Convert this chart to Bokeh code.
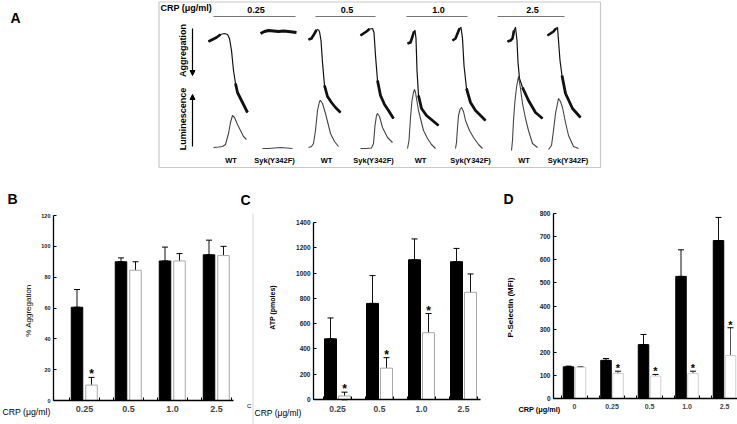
import math
from bokeh.plotting import figure
from bokeh.models import (Range1d, FixedTicker, Arrow, NormalHead, Whisker, TeeHead,
                          ColumnDataSource, LinearAxis)
from bokeh.layouts import column, row
from bokeh.core.properties import value
from bokeh.embed import file_html
from bokeh.resources import INLINE

FONT = "Liberation Sans"

# ---------------- Data ----------------
# Panel A: platelet aggregation (thick) and ATP luminescence (thin) traces, per lane
A_DOSES = ["0.25", "0.5", "1.0", "2.5"]
A_LANES = ["WT", "Syk(Y342F)", "WT", "Syk(Y342F)", "WT", "Syk(Y342F)", "WT", "Syk(Y342F)"]

AGG_X = [
    [208, 212, 216, 220, 224, 227, 229, 231, 233, 235, 237, 242, 247],
    [260, 264, 268, 273, 278, 283, 288, 292, 296],
    [308, 311, 314, 316, 317.5, 319, 320.5, 322, 324, 327, 331, 335, 340],
    [360, 363, 366, 369, 372, 373.5, 375, 377, 380, 384, 388, 393],
    [407, 410, 412, 413.5, 414.5, 415.5, 416.5, 418, 421, 426, 432, 438],
    [452, 455, 457, 459, 460.5, 462, 463.5, 466, 470, 475, 480, 485],
    [507, 510, 512, 513.5, 515, 516.5, 517.5, 519, 522, 528, 535, 542],
    [547, 550, 553, 555.5, 557, 558, 559.5, 561.5, 565, 572, 580],
]
AGG_Y = [
    [41, 39, 37, 34, 33, 34, 38, 50, 70, 83, 92, 102, 112],
    [33, 31, 30, 30.5, 31, 30.5, 31, 31.5, 32],
    [39, 38, 33, 29.5, 29, 31, 40, 62, 85, 96, 102, 107, 112],
    [35, 33, 31, 28.5, 28, 32, 55, 80, 95, 104, 110, 118],
    [43, 42, 36, 31, 30, 38, 70, 95, 108, 115, 120, 125],
    [40, 38, 33, 28, 27, 38, 65, 88, 102, 110, 115, 120],
    [41, 40, 38, 30, 27, 40, 62, 78, 87, 100, 112, 118],
    [35, 33, 31, 28, 27, 40, 60, 75, 93, 108, 117],
]
LUM_X = [
    [213, 218, 222, 225, 228, 230, 232, 234, 237, 240, 243, 246],
    [262, 268, 274, 280, 286, 292],
    [308, 311, 313, 315, 317, 319, 320, 322, 325, 330, 334, 338],
    [360, 366, 371, 373, 374.5, 376, 377, 379, 382, 387, 392],
    [407, 408.5, 410, 411.5, 413, 414, 415, 418, 423, 427, 431, 435],
    [455, 456, 457, 458, 459.5, 461, 463, 465, 469, 473, 478, 482],
    [511, 512, 513, 514.5, 516, 518, 520, 522, 525, 528, 532, 537],
    [548, 551, 553, 555, 557, 558, 560, 562, 565, 568, 573, 578],
]
LUM_Y = [
    [147, 146.5, 146, 144, 133, 122, 115, 117, 124, 130, 136, 139],
    [148, 148, 147.5, 147, 147.5, 148],
    [147, 146, 143, 130, 110, 101, 100, 103, 113, 133, 141, 146],
    [148, 148, 147.5, 143, 125, 115, 113, 116, 127, 137, 142],
    [148, 140, 117, 100, 92, 89, 92, 110, 130, 138, 144, 148],
    [148, 142, 127, 115, 109, 107, 111, 120, 130, 137, 144, 148],
    [150, 140, 120, 100, 87, 76, 88, 103, 118, 130, 143, 147],
    [149, 145, 130, 113, 103, 98, 101, 107, 122, 135, 146, 148],
]

# Panel B: % aggregation
B_DOSES = ["0.25", "0.5", "1.0", "2.5"]
B_WT = [60.5, 90, 90.5, 94.5]
B_WT_SD = [11.5, 2.5, 9, 9.5]
B_SYK = [10, 84.5, 90.5, 94]
B_SYK_SD = [5, 5.5, 4.8, 6]
B_SIG = [True, False, False, False]
B_TICKS = [0, 20, 40, 60, 80, 100, 120]

# Panel C: ATP (pmoles)
C_DOSES = ["0.25", "0.5", "1.0", "2.5"]
C_WT = [480, 760, 1105, 1090]
C_WT_SD = [165, 220, 165, 105]
C_SYK = [28, 248, 528, 848]
C_SYK_SD = [30, 83, 152, 145]
C_SIG = [True, True, True, False]
C_TICKS = [0, 200, 400, 600, 800, 1000, 1200, 1400]

# Panel D: P-selectin (MFI)
D_DOSES = ["0", "0.25", "0.5", "1.0", "2.5"]
D_WT = [137, 165, 233, 528, 683]
D_WT_SD = [3, 8, 44, 115, 100]
D_SYK = [135, 108, 97, 108, 186]
D_SYK_SD = [2, 10, 7, 10, 120]
D_SIG = [False, True, True, True, True]
D_TICKS = [0, 100, 200, 300, 400, 500, 600, 700, 800]

# ---------------- Layout (page pixels) ----------------
TOTAL_W = 737
HA = 186
TOP_B = 186
BOT_B = 424
HB = BOT_B - TOP_B


def txt(p, x, y, s, size, bold=True, align="center", baseline="middle", angle=0.0, color="black"):
    p.text(x=[x], y=[y], text=[s], text_font=value(FONT), text_font_size=f"{size}px",
           text_font_style="bold" if bold else "normal", text_align=align,
           text_baseline=baseline, angle=angle, text_color=color)


# ---- Panel A ----
pa = figure(width=TOTAL_W, height=HA, x_range=Range1d(0, TOTAL_W), y_range=Range1d(HA, 0),
            x_axis_location=None, y_axis_location=None, output_backend="svg",
            toolbar_location=None, min_border=0)
pa.grid.visible = False
pa.outline_line_color = None

txt(pa, 10, 17, "A", 14, align="left")
pa.quad(left=[158.5], right=[600], top=[1.5], bottom=[167], fill_color=None,
        line_color="#c8c8c8", line_width=1.2)
txt(pa, 160, 7.5, "CRP (\u03bcg/ml)", 9, align="left")

A_SPANS = [(213, 295), (315, 375), (406, 467), (497, 564)]
A_LANE_X = [230.5, 274, 326, 373, 420, 470, 523.5, 567.5]
for d, (a, b) in zip(A_DOSES, A_SPANS):
    pa.segment(x0=[a], x1=[b], y0=[16], y1=[16], line_color="#777777", line_width=1)
    txt(pa, (a + b) / 2 + 1.5, 9.5, d, 9)
for lx, ln in zip(A_LANE_X, A_LANES):
    txt(pa, lx, 160, ln, 7.5)

txt(pa, 182, 50, "Aggregation", 9, angle=math.pi / 2)
txt(pa, 182, 118.5, "Luminescence", 9, angle=math.pi / 2)
pa.add_layout(Arrow(x_start=192, y_start=28, x_end=192, y_end=75, line_width=1.2,
                    end=NormalHead(size=5, fill_color="black", line_color="black")))
pa.add_layout(Arrow(x_start=192, y_start=146, x_end=192, y_end=94, line_width=1.2,
                    end=NormalHead(size=5, fill_color="black", line_color="black")))

for xs, ys in zip(AGG_X, AGG_Y):
    if max(ys) - min(ys) < 10:
        pa.line(xs, ys, line_color="#111111", line_width=3.0, line_join="round")
        continue
    pk = ys.index(min(ys))
    thr = ys[pk] + 0.7 * (ys[-1] - ys[pk])
    tail = next(k for k in range(pk, len(ys)) if ys[k] >= thr)
    pa.line(xs, ys, line_color="#111111", line_width=1.2, line_join="round")
    pa.line(xs[:pk], ys[:pk], line_color="#111111", line_width=2.6, line_join="round")
    pa.line(xs[tail - 1:], ys[tail - 1:], line_color="#111111", line_width=2.8, line_join="round")
for xs, ys in zip(LUM_X, LUM_Y):
    pa.line(xs, ys, line_color="#444444", line_width=1.1, line_join="round")


# ---- Bar panels (frame = whole figure; axes at fixed locations) ----
def bar_panel(fig_left, fig_w, g, doses, wt, wt_sd, syk, syk_sd, sig, yticks, st, texts):
    n = len(doses)
    y1 = yticks[-1]

    def X(px):
        return (px - g["c0"]) / g["sp"]

    def Y(py):
        return (g["bottom"] - py) * y1 / (g["bottom"] - g["top"])

    p = figure(width=fig_w, height=HB, x_range=Range1d(X(fig_left), X(fig_left + fig_w)),
               y_range=Range1d(Y(BOT_B), Y(TOP_B)), x_axis_location=None,
               y_axis_location=None, output_backend="svg", toolbar_location=None,
               min_border=0)
    p.grid.visible = False
    p.outline_line_color = None

    xb = [i + st["ob"] / g["sp"] for i in range(n)]
    xw = [i + st["ow"] / g["sp"] for i in range(n)]
    bw = st["bw"] / g["sp"]
    p.vbar(x=xb, top=wt, width=bw, fill_color="black", line_color="black", line_width=1)
    p.vbar(x=xw, top=syk, width=bw, fill_color="white", line_color=st["wline"], line_width=1)

    src_b = ColumnDataSource(dict(x=xb, lo=wt, hi=[a + b for a, b in zip(wt, wt_sd)]))
    src_w = ColumnDataSource(dict(x=xw, lo=[a - b for a, b in zip(syk, syk_sd)],
                                  hi=[a + b for a, b in zip(syk, syk_sd)]))
    for src, lc in ((src_b, "#111111"), (src_w, st["wwhisk"])):
        p.add_layout(Whisker(source=src, base="x", lower="lo", upper="hi",
                             line_color=lc, line_width=1,
                             upper_head=TeeHead(size=6, line_color="black", line_width=1),
                             lower_head=TeeHead(size=6, line_color="black", line_width=1)))
    sx = [xw[i] for i in range(n) if sig[i]]
    sy = [syk[i] + syk_sd[i] for i in range(n) if sig[i]]
    p.text(x=sx, y=sy, text=["*"] * len(sx), text_font=value(FONT),
           text_font_size=f"{st['star']}px", text_font_style="bold", text_align="center",
           text_baseline="alphabetic", y_offset=st["star_off"])

    yax = LinearAxis(fixed_location=X(g["left"]), bounds=(0, y1),
                     ticker=FixedTicker(ticks=yticks))
    yax.major_tick_in = 3
    yax.major_tick_out = 0
    yax.minor_tick_in = 0
    yax.minor_tick_out = 0
    yax.major_label_standoff = 3
    yax.major_label_text_font = FONT
    yax.major_label_text_font_size = f"{st['tick']}px"
    yax.major_label_text_font_style = "bold"
    yax.major_label_text_color = "#222222"
    yax.axis_line_width = 1.3
    p.add_layout(yax, "left")

    minors = [i + d for i in range(n) for d in (-0.34, 0.34)]
    xax = LinearAxis(fixed_location=0, bounds=(X(g["left"]), X(g["right"])),
                     ticker=FixedTicker(ticks=list(range(n)), minor_ticks=minors))
    xax.major_label_overrides = {i: d for i, d in enumerate(doses)}
    xax.major_tick_in = 0
    xax.major_tick_out = 0
    xax.minor_tick_in = 3
    xax.minor_tick_out = 0
    xax.major_label_standoff = st["xstand"]
    xax.major_label_text_font = FONT
    xax.major_label_text_font_size = f"{st['cat']}px"
    xax.major_label_text_font_style = "bold"
    xax.axis_line_width = 1.5
    p.add_layout(xax, "below")

    for (px, py, s, size, bold, align, ang) in texts:
        txt(p, X(px), Y(py), s, size, bold=bold, align=align, angle=ang)
    return p, X, Y


GB = dict(left=53, right=233, top=215, bottom=400, c0=84, sp=44)
GC = dict(left=313, right=480, top=222, bottom=399, c0=337, sp=42)
GD = dict(left=553, right=737, top=213, bottom=398, c0=574, sp=37.5)
ROT = math.pi / 2

pb, _, _ = bar_panel(
    0, 240, GB, B_DOSES, B_WT, B_WT_SD, B_SYK, B_SYK_SD, B_SIG, B_TICKS,
    dict(ob=-7.5, ow=7, bw=11.5, wline="#a8a8a8", wwhisk="#111111", star=12, star_off=-3,
         tick=5.5, cat=9, xstand=5),
    [(7, 198, "B", 14, True, "left", 0.0),
     (28, 310, "% Aggregation", 8, False, "center", ROT),
     (2, 411, "CRP (\u03bcg/ml)", 8.7, False, "left", 0.0)])

pc, XC, YC = bar_panel(
    240, 252, GC, C_DOSES, C_WT, C_WT_SD, C_SYK, C_SYK_SD, C_SIG, C_TICKS,
    dict(ob=-7, ow=7, bw=12, wline="#a8a8a8", wwhisk="#111111", star=12, star_off=-3,
         tick=6.5, cat=8.5, xstand=6),
    [(240, 199, "C", 14, True, "left", 0.0),
     (272, 307, "ATP (pmoles)", 7, True, "center", ROT),
     (246.5, 405, "C", 6, False, "left", 0.0),
     (254, 412, "CRP (\u03bcg/ml)", 8.5, False, "left", 0.0)])
pc.segment(x0=[XC(252.5)], x1=[XC(252.5)], y0=[YC(213)], y1=[YC(424)],
           line_color="#d6d6d6", line_width=1)

pd_, _, _ = bar_panel(
    492, 245, GD, D_DOSES, D_WT, D_WT_SD, D_SYK, D_SYK_SD, D_SIG, D_TICKS,
    dict(ob=-6, ow=6, bw=10.5, wline="#d0d0d0", wwhisk="#555555", star=11, star_off=-3,
         tick=6.5, cat=7, xstand=5),
    [(503, 198, "D", 14, True, "left", 0.0),
     (510, 307, "P-Selectin (MFI)", 8, True, "center", ROT),
     (518, 409, "CRP (\u03bcg/ml)", 7.3, True, "left", 0.0)])

layout = column(pa, row(pb, pc, pd_))

with open("out.html", "w") as f:
    f.write(file_html(layout, INLINE))
